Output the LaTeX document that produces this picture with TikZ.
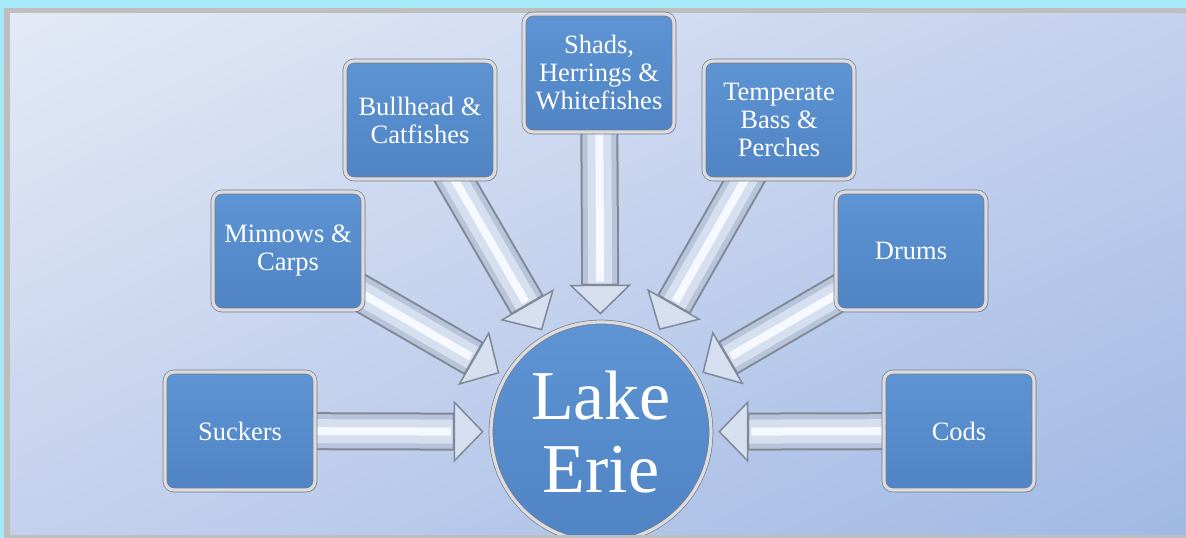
\documentclass[tikz,border=0pt]{standalone}
\usepackage{fontspec}
\setmainfont{Liberation Serif}
\usetikzlibrary{arrows.meta,shadows,shadings}
\pgfdeclarelayer{back}
\pgfdeclarelayer{flow}
\pgfsetlayers{back,flow,main}

\definecolor{bandcyan}{RGB}{166,233,248}
\definecolor{framegrey}{RGB}{190,190,190}
\definecolor{bgtl}{RGB}{227,233,246}
\definecolor{bgmid}{RGB}{196,209,237}
\definecolor{bgbr}{RGB}{160,185,228}
\definecolor{boxblue}{RGB}{80,132,196}
\definecolor{boxtop}{RGB}{94,148,212}
\definecolor{boxrim}{RGB}{218,220,226}
\definecolor{rimedge}{RGB}{120,124,132}
\definecolor{arrowedge}{RGB}{128,136,150}
\definecolor{arrowbody}{RGB}{184,196,218}
\definecolor{arrowmid}{RGB}{214,223,240}
\definecolor{arrowshine}{RGB}{246,249,255}

\tikzset{
  fishbox/.style={rectangle, rounded corners=9bp, minimum width=150bp,
    minimum height=118bp, line width=0.7bp, draw=rimedge, double=boxrim,
    double distance=3.2bp, top color=boxtop, bottom color=boxblue,
    text=white, align=center, font=\fontsize{26.5bp}{28bp}\selectfont,
    drop shadow={shadow xshift=2bp, shadow yshift=-2bp, opacity=.45}},
  lakenode/.style={circle, minimum size=220bp, inner sep=0pt, line width=0.7bp,
    draw=rimedge, double=boxrim, double distance=3.2bp, top color=boxtop,
    bottom color=boxblue, text=white, align=center,
    font=\fontsize{70bp}{73bp}\selectfont},
  fishflow/.style={line width=38bp, draw=arrowedge, shorten >=7bp,
    -{Triangle[length=30bp,width=62bp,line width=1.5bp,fill=arrowmid]}},
  fishbody/.style={line width=34bp, draw=arrowbody, shorten >=38bp},
  fishmid/.style={line width=24bp, draw=arrowmid, shorten >=38bp},
  fishshine/.style={line width=8bp, draw=arrowshine, shorten >=40bp},
}

\begin{document}
\begin{tikzpicture}[x=1bp,y=-1bp]
\useasboundingbox (0,0) rectangle (1186,538);

\begin{pgfonlayer}{back}
\fill[bandcyan] (0,0) rectangle (1186,538);
\fill[framegrey] (4,8) rectangle (1186,538);
\shade[upper left=bgtl, upper right=bgmid, lower left=bgmid, lower right=bgbr]
  (10,14) rectangle (1186,535);
\end{pgfonlayer}

\node[lakenode] (lake) at (601,432) {Lake\\Erie};

\node[fishbox] (suckers) at (240,431) {Suckers};
\node[fishbox] (minnows) at (288,251) {Minnows \&\\Carps};
\node[fishbox] (bullhead) at (420,120) {Bullhead \&\\Catfishes};
\node[fishbox] (shads) at (599,73) {Shads,\\Herrings \&\\Whitefishes};
\node[fishbox] (temperate) at (779,120) {Temperate\\Bass \&\\Perches};
\node[fishbox] (drums) at (911,251) {Drums};
\node[fishbox] (cods) at (959,431) {Cods};

\begin{pgfonlayer}{flow}
\foreach \src in {suckers,minnows,bullhead,shads,temperate,drums,cods}{
  \draw[fishflow] (\src.center) -- (lake);
  \draw[fishbody] (\src.center) -- (lake);
  \draw[fishmid] (\src.center) -- (lake);
  \draw[fishshine] (\src.center) -- (lake);
}
\end{pgfonlayer}

\fill[framegrey] (4,535) rectangle (1186,538);
\end{tikzpicture}
\end{document}
